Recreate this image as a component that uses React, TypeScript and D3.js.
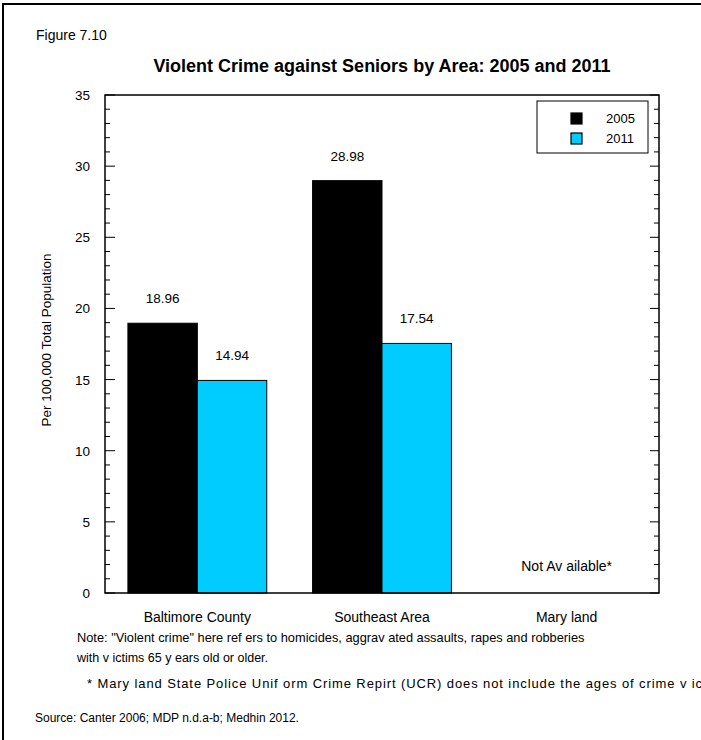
import React from "react";
import * as d3 from "d3";

const categories = ["Baltimore County", "Southeast Area", "Maryland"];
const years = ["2005", "2011"];
const values2005: (number | null)[] = [18.96, 28.98, null];
const values2011: (number | null)[] = [14.94, 17.54, null];
const yTicks = [0, 5, 10, 15, 20, 25, 30, 35];
const colors = ["#000000", "#00CCFF"];

const figureLabel = "Figure 7.10";
const title = "Violent Crime against Seniors by Area: 2005 and 2011";
const yLabel = "Per 100,000 Total Population";
const naLabel = "Not Av ailable*";
const noteLines = [
  "Note: \"Violent crime\" here ref ers to homicides, aggrav ated assaults, rapes and robberies",
  "with v ictims 65 y ears old or older.",
];
const footnote = "* Mary land State Police Unif orm Crime Repirt (UCR) does not include the ages of  crime v ictims.";
const source = "Source: Canter 2006; MDP n.d.a-b; Medhin 2012.";
const xLabels = ["Baltimore County", "Southeast Area", "Mary land"];

export default function App() {
  const W = 701, H = 740;
  const left = 105, right = 659, top = 95, bottom = 593;
  const font = "'Liberation Sans', Arial, sans-serif";

  const x0 = d3.scaleBand<string>().domain(categories).range([left, right]).padding(0);
  const x1 = d3.scaleBand<string>().domain(years).range([0, x0.bandwidth()]).paddingInner(0).paddingOuter(0.33);
  const y = d3.scaleLinear().domain([0, 35]).range([bottom, top]);
  const minorTicks = d3.range(0, 36, 1);
  const seriesData = [values2005, values2011];

  return (
    <svg width={W} height={H} style={{ position: "absolute", left: 0, top: 0, background: "#fff" }} fontFamily={font}>
      <rect x={0} y={0} width={W} height={H} fill="#fff" />
      {/* outer frame */}
      <rect x={3} y={4} width={W + 20} height={H + 20} fill="none" stroke="#000" strokeWidth={2} />

      <text x={36} y={40} fontSize={14} fill="#000">{figureLabel}</text>
      <text x={(left + right) / 2} y={72} fontSize={18} fontWeight="bold" textAnchor="middle" fill="#000">{title}</text>

      {/* bars */}
      {categories.map((c, i) =>
        seriesData.map((s, j) => {
          const v = s[i];
          if (v == null) return null;
          const bx = (x0(c) as number) + (x1(years[j]) as number);
          return (
            <g key={c + j}>
              <rect x={bx} y={y(v)} width={x1.bandwidth()} height={y(0) - y(v)} fill={colors[j]} stroke="#000" strokeWidth={1} />
              <text x={bx + x1.bandwidth() / 2} y={y(v) - 20} fontSize={13.5} textAnchor="middle" fill="#000">{v.toFixed(2)}</text>
            </g>
          );
        })
      )}

      {/* plot frame */}
      <rect x={left} y={top} width={right - left} height={bottom - top} fill="none" stroke="#000" strokeWidth={1.5} />

      {/* ticks */}
      {minorTicks.map((t) => {
        const major = t % 5 === 0;
        const yy = y(t);
        return (
          <g key={"t" + t}>
            <line x1={left} x2={left + (major ? 10 : 5)} y1={yy} y2={yy} stroke="#000" strokeWidth={1} />
            <line x1={right} x2={right - (major ? 9 : 5)} y1={yy} y2={yy} stroke="#000" strokeWidth={1} />
          </g>
        );
      })}
      {yTicks.map((t) => (
        <text key={"yl" + t} x={left - 15} y={y(t) + 5} fontSize={13.5} textAnchor="end" fill="#000">{t}</text>
      ))}

      <text transform={`translate(51,340) rotate(-90)`} fontSize={13.5} textAnchor="middle" fill="#000">{yLabel}</text>

      {/* x labels */}
      {categories.map((c, i) => (
        <text key={"xl" + c} x={(x0(c) as number) + x0.bandwidth() / 2} y={622} fontSize={14} textAnchor="middle" fill="#000">{xLabels[i]}</text>
      ))}

      <text x={(x0("Maryland") as number) + x0.bandwidth() / 2} y={571} fontSize={14} textAnchor="middle" fill="#000">{naLabel}</text>

      {/* legend */}
      <rect x={537} y={101} width={111} height={52} fill="#fff" stroke="#000" strokeWidth={1} />
      {years.map((yr, j) => (
        <g key={"lg" + yr}>
          <rect x={571} y={113 + j * 20} width={11} height={11} fill={colors[j]} stroke="#000" strokeWidth={1.2} />
          <text x={606} y={123 + j * 20} fontSize={13} fill="#000">{yr}</text>
        </g>
      ))}

      {/* notes */}
      <text x={77} y={642} fontSize={12.8} fill="#000">{noteLines[0]}</text>
      <text x={77} y={662} fontSize={12.5} fill="#000">{noteLines[1]}</text>
      <text x={87} y={688} fontSize={13} letterSpacing={0.9} fill="#000">{footnote}</text>
      <text x={35} y={722} fontSize={12} fill="#000">{source}</text>
    </svg>
  );
}
